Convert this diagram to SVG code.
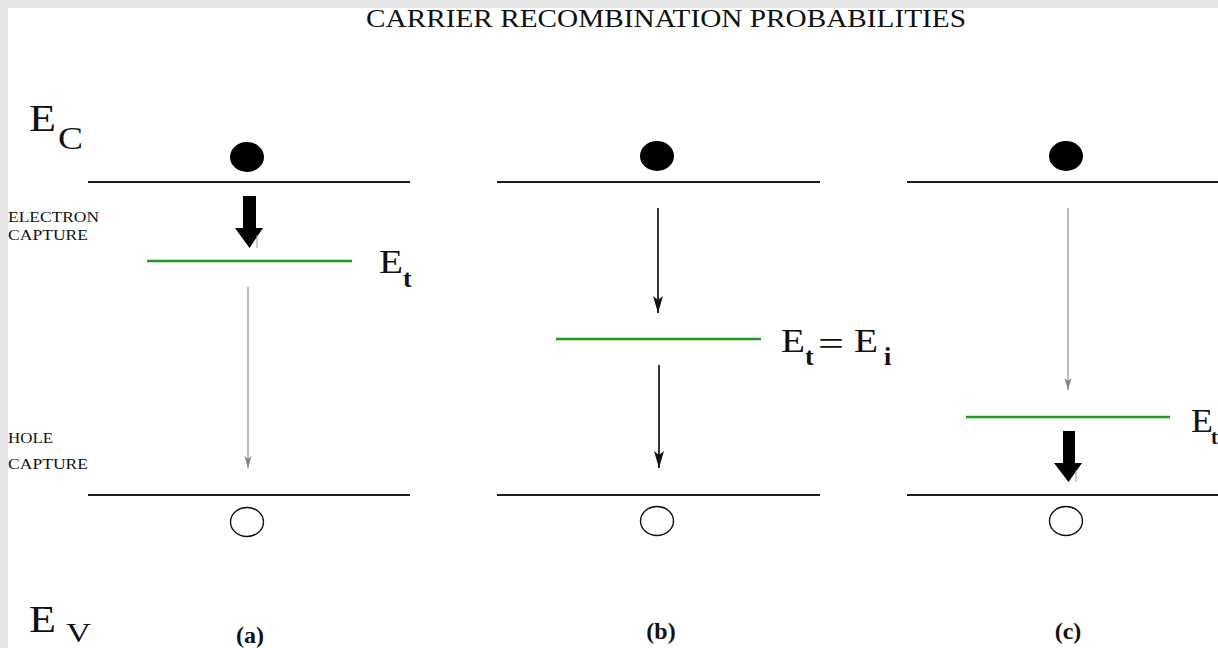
<svg xmlns="http://www.w3.org/2000/svg" width="1218" height="648" viewBox="0 0 1218 648">
<style>
.serif{font-family:"Liberation Serif","Times New Roman",serif;fill:#111}
.band{stroke:#1c1c1c;stroke-width:2.2;fill:none}
.trap{stroke:#1f9a1f;stroke-width:2.6;fill:none}
.thin{stroke:#858585;stroke-width:1.1;fill:none}
.blk{stroke:#111;stroke-width:1.7;fill:none}
.tick{stroke:#9a9a9a;stroke-width:1;fill:none}
.dot{fill:#000}
.hole{fill:#fff;stroke:#111;stroke-width:1.4}
.fat{fill:#000}
.small{font-size:14px}
.big{font-size:38px}
.mid{font-size:34px}
.sub{font-size:32px}
.bsub{font-size:26px;font-weight:bold}
.cap{font-size:24px;font-weight:bold}
</style>
<defs>
<marker id="hgray" markerUnits="userSpaceOnUse" markerWidth="20" markerHeight="20" orient="auto" overflow="visible">
<path d="M0,0 L-12,-3.6 L-9,0 L-12,3.6 Z" fill="#858585"/>
</marker>
<marker id="hblk" markerUnits="userSpaceOnUse" markerWidth="20" markerHeight="20" orient="auto" overflow="visible">
<path d="M0,0 L-17,-5 L-13,0 L-17,5 Z" fill="#111"/>
</marker>
</defs>
<rect x="0" y="0" width="1218" height="648" fill="#e6e6e6"/>
<rect x="8" y="8" width="1210" height="640" fill="#ffffff"/>

<text class="serif" x="666" y="27" font-size="25" text-anchor="middle" textLength="600" lengthAdjust="spacingAndGlyphs">CARRIER RECOMBINATION PROBABILITIES</text>

<g id="axis-labels">
<text class="serif big" x="29" y="131" textLength="27" lengthAdjust="spacingAndGlyphs">E</text>
<text class="serif sub" x="58" y="149" textLength="25" lengthAdjust="spacingAndGlyphs">C</text>
<text class="serif big" x="29" y="632" textLength="27" lengthAdjust="spacingAndGlyphs">E</text>
<text class="serif" x="66" y="642" font-size="28" textLength="25" lengthAdjust="spacingAndGlyphs">V</text>
<text class="serif small" x="8" y="222" textLength="91" lengthAdjust="spacingAndGlyphs">ELECTRON</text>
<text class="serif small" x="8" y="240" textLength="80" lengthAdjust="spacingAndGlyphs">CAPTURE</text>
<text class="serif small" x="8" y="443" textLength="45" lengthAdjust="spacingAndGlyphs">HOLE</text>
<text class="serif small" x="8" y="469" textLength="80" lengthAdjust="spacingAndGlyphs">CAPTURE</text>
</g>

<g id="panel-a">
<line class="band" x1="88" y1="182" x2="410" y2="182"/>
<line class="band" x1="88" y1="495" x2="410" y2="495"/>
<line class="trap" x1="147" y1="261" x2="352" y2="261"/>
<ellipse class="dot" cx="247" cy="157" rx="17" ry="15"/>
<ellipse class="hole" cx="247" cy="522" rx="16.5" ry="14.5"/>
<text class="serif mid" x="379" y="273" textLength="24" lengthAdjust="spacingAndGlyphs">E</text>
<text class="serif bsub" x="403" y="287">t</text>
<text class="serif cap" x="250" y="643" text-anchor="middle">(a)</text>
</g>

<g id="panel-b">
<line class="band" x1="497" y1="182" x2="820" y2="182"/>
<line class="band" x1="497" y1="495" x2="820" y2="495"/>
<line class="trap" x1="556" y1="339" x2="761" y2="339"/>
<ellipse class="dot" cx="657" cy="156" rx="17" ry="15"/>
<ellipse class="hole" cx="657" cy="521" rx="16.5" ry="14.5"/>
<text class="serif mid" x="781" y="352" textLength="24" lengthAdjust="spacingAndGlyphs">E</text>
<text class="serif bsub" x="805" y="365">t</text>
<text class="serif" x="818" y="355" font-size="34" textLength="26" lengthAdjust="spacingAndGlyphs">=</text>
<text class="serif mid" x="854" y="352" textLength="24" lengthAdjust="spacingAndGlyphs">E</text>
<text class="serif bsub" x="884" y="365">i</text>
<text class="serif cap" x="661" y="639" text-anchor="middle">(b)</text>
</g>

<g id="panel-c">
<line class="band" x1="907" y1="182" x2="1218" y2="182"/>
<line class="band" x1="907" y1="495" x2="1218" y2="495"/>
<line class="trap" x1="966" y1="417" x2="1170" y2="417"/>
<ellipse class="dot" cx="1066" cy="156" rx="17" ry="15"/>
<ellipse class="hole" cx="1066" cy="521" rx="16.5" ry="14.5"/>
<text class="serif mid" x="1191" y="432" textLength="22" lengthAdjust="spacingAndGlyphs">E</text>
<text class="serif" x="1211" y="444" font-size="20" font-weight="bold">t</text>
<text class="serif cap" x="1068" y="639" text-anchor="middle">(c)</text>
</g>

<g id="connectors">
<polygon class="fat" points="243,196 256,196 256,228 263,228 249.5,248 235,228 243,228"/>
<line class="tick" x1="257" y1="235" x2="257" y2="248"/>
<line class="thin" x1="248" y1="287" x2="248" y2="468" marker-end="url(#hgray)"/>
<line class="blk" x1="658" y1="208" x2="658" y2="313" marker-end="url(#hblk)"/>
<line class="blk" x1="659" y1="365" x2="659" y2="468" marker-end="url(#hblk)"/>
<line class="thin" x1="1068" y1="208" x2="1068" y2="390" marker-end="url(#hgray)"/>
<polygon class="fat" points="1063,431 1075,431 1075,463 1082,463 1068.5,482 1054,463 1063,463"/>
<line class="tick" x1="1076" y1="470" x2="1076" y2="482"/>
</g>
</svg>
